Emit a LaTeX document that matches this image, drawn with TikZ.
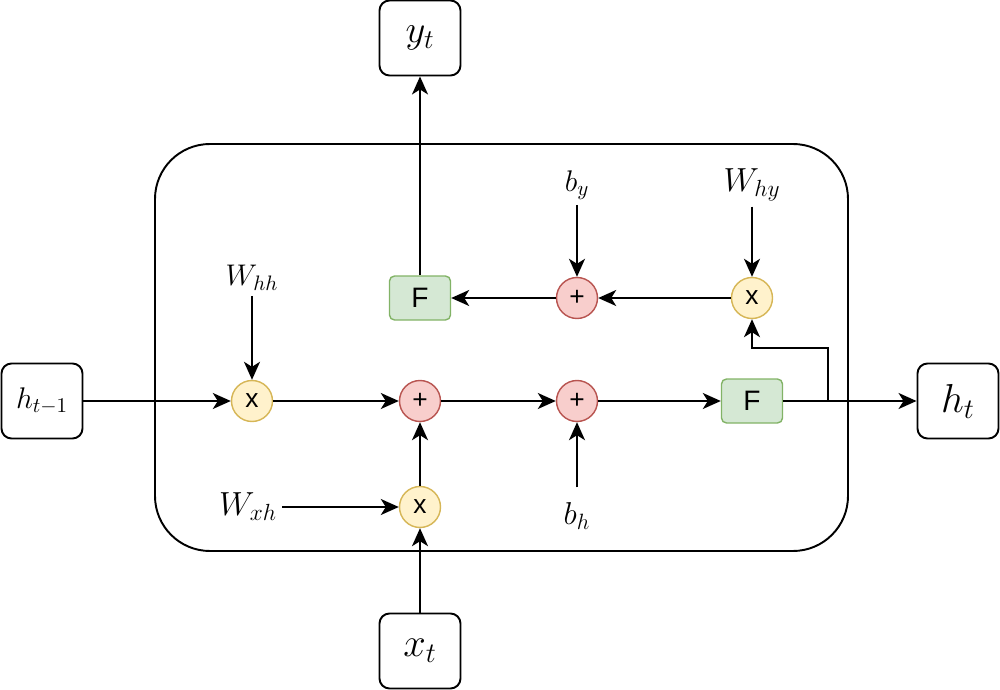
\RequirePackage{fix-cm}
\documentclass[tikz,border=0pt]{standalone}
\usepackage{fontspec}
\setsansfont{Liberation Sans}
\usepackage{xcolor}
\usetikzlibrary{arrows.meta, calc, positioning}
\definecolor{drwyellow}{HTML}{FFF2CC}
\definecolor{drwyellow400}{HTML}{D6B656}
\definecolor{drwred}{HTML}{F8CECC}
\definecolor{drwred400}{HTML}{B85450}
\definecolor{drwgreen}{HTML}{D5E8D4}
\definecolor{drwgreen400}{HTML}{82B366}
\tikzset{
  % Graph arrow style
  garr/.style={
    line width = 1.05pt
    , -{Stealth[length=0.36cm, width=0.32cm, inset=0.1cm]}
  },
}
\tikzset{
  %input/output box style
  iobox/.style={
    draw
    , line width=1.1pt
    , anchor=center
    , text centered
    , rounded corners=0.2cm
    , minimum width=1.62cm
    , minimum height=1.5cm
  },
  %operator circle style
  opnode/.style={
    circle
    , draw
    , line width=0.8pt
    , minimum size=0.82cm
    , inner sep=0pt
    , font=\sffamily\fontsize{15}{17}\selectfont
  },
  mulnode/.style={opnode, fill=drwyellow, draw=drwyellow400},
  addnode/.style={opnode, fill=drwred, draw=drwred400},
  %activation box style
  fnode/.style={
    draw=drwgreen400
    , fill=drwgreen
    , line width=0.8pt
    , rounded corners=0.1cm
    , minimum width=1.22cm
    , minimum height=0.88cm
    , font=\sffamily\fontsize{16}{18}\selectfont
  },
  %weight and bias labels
  lbl/.style={inner sep=0.1cm},
  %outer cell
  cellbox/.style={
    draw
    , line width=1.1pt
    , rounded corners=1.1cm
    , minimum width=13.86cm
    , minimum height=8.14cm
  },
}
\begin{document}
\begin{tikzpicture}[node distance=3.36cm]
      \useasboundingbox (0,0) rectangle (20,-13.8);
      \node[cellbox] (cell) at (10.03,-6.95) {};

      \node[iobox] (hprev) at (0.84,-8.02) {\fontsize{17}{20}\selectfont $h_{t-1}$};
      \node[mulnode] (mulhh) at (5.04,-8.02) {x};
      \node[addnode, right of=mulhh] (addh) {+};
      \node[addnode, right of=addh, node distance=3.14cm] (addb) {+};
      \node[fnode, right of=addb, node distance=3.5cm] (fh) {F};
      \node[iobox, right of=fh, node distance=4.12cm] (hnext) {\fontsize{23}{26}\selectfont $h_t$};
      \node[mulnode, below of=addh, node distance=2.12cm] (mulxh) {x};
      \node[iobox, below of=mulxh, node distance=2.88cm] (xin) {\fontsize{23}{26}\selectfont $x_t$};
      \node[fnode, above of=addh, node distance=2.06cm] (fy) {F};
      \node[addnode, right of=fy, node distance=3.14cm] (addy) {+};
      \node[mulnode, right of=addy, node distance=3.5cm] (mulhy) {x};
      \node[iobox, above of=fy, node distance=5.2cm] (yout) {\fontsize{22}{25}\selectfont $y_t$};

      \node[lbl, above of=mulhh, node distance=2.46cm] (whh) {\fontsize{17}{20}\selectfont $W_{hh}$};
      \node[lbl, left of=mulxh, node distance=3.44cm] (wxh) {\fontsize{19}{22}\selectfont $W_{xh}$};
      \node[lbl, below of=addb, node distance=2.3cm, inner sep=0.3cm] (bh) {\fontsize{18}{21}\selectfont $b_h$};
      \node[lbl, above of=addy, node distance=2.26cm] (by) {\fontsize{17}{20}\selectfont $b_y$};
      \node[lbl, above of=mulhy, node distance=2.26cm] (why) {\fontsize{19}{22}\selectfont $W_{hy}$};

      \draw[garr] (hprev) -- (mulhh);
      \draw[garr] (mulhh) -- (addh);
      \draw[garr] (addh) -- (addb);
      \draw[garr] (addb) -- (fh);
      \draw[garr] (fh) -- (hnext);

      \draw[garr] (whh) -- (mulhh);
      \draw[garr] (wxh) -- (mulxh);
      \draw[garr] (mulxh) -- (addh);
      \draw[garr] (xin) -- (mulxh);
      \draw[garr] (bh) -- (addb);

      \draw[garr] (by) -- (addy);
      \draw[garr] (why) -- (mulhy);
      \draw[garr] (mulhy) -- (addy);
      \draw[garr] (addy) -- (fy);
      \draw[garr] (fy) -- (yout);

      \coordinate (split) at ([xshift=0.9cm]fh.east);
      \draw[garr] (split) -- ++(0,1.06) -| (mulhy);
    \end{tikzpicture}
\end{document}
